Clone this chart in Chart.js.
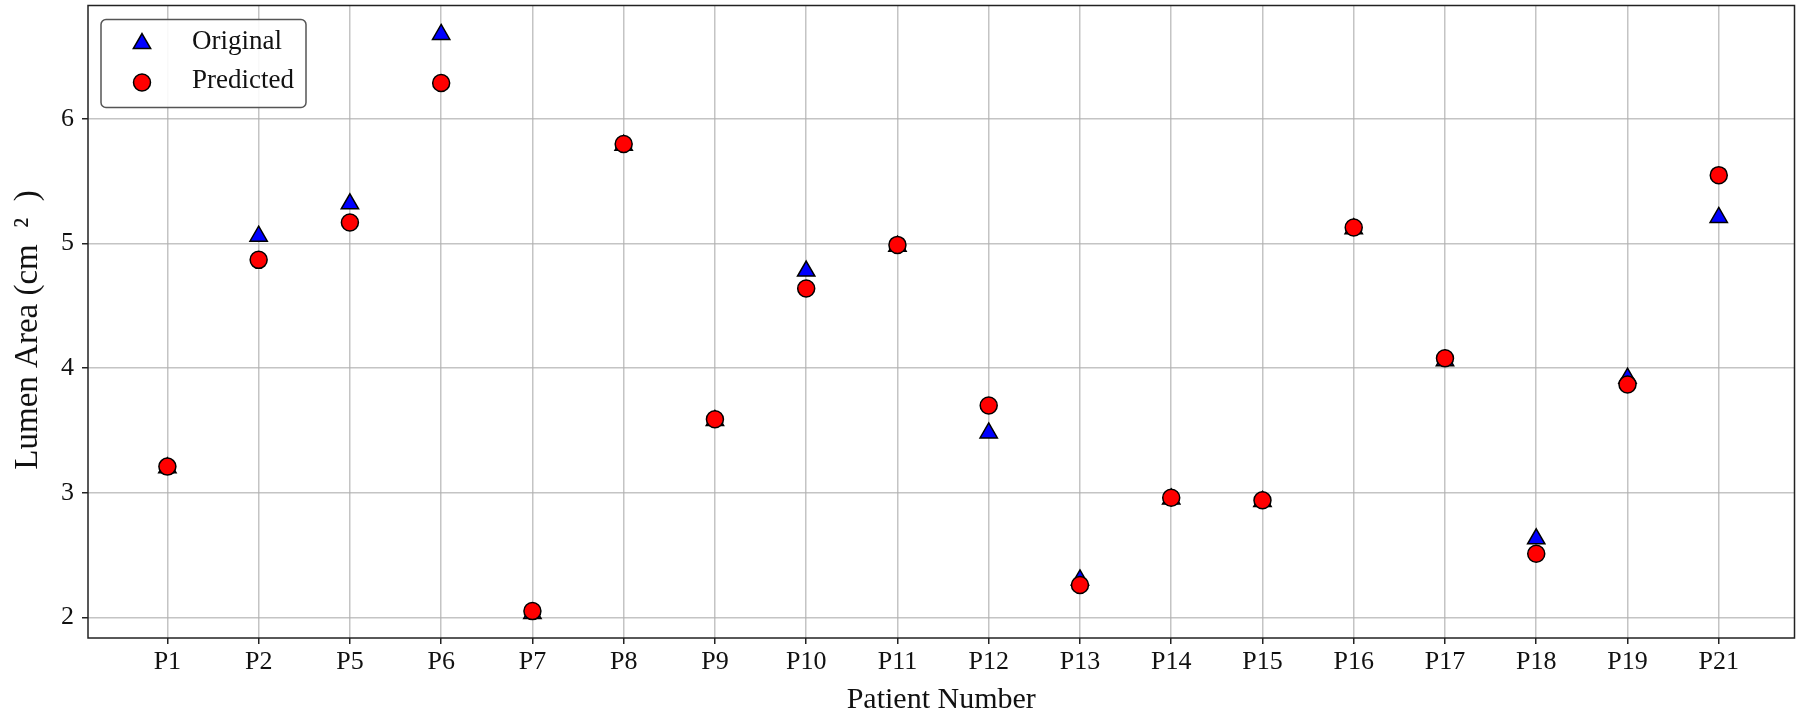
<!DOCTYPE html>
<html>
<head>
<meta charset="utf-8">
<script src="https://cdn.jsdelivr.net/npm/chart.js@4"></script>
<style>
  html, body { margin: 0; padding: 0; background: #fff; overflow: hidden; }
  #wrap { position: absolute; left: 0; top: -6px; width: 1806px; height: 720px; }
</style>
</head>
<body>
<div id="wrap"><canvas id="lumenChart"></canvas></div>
<script>
const patients = ['P1', 'P2', 'P5', 'P6', 'P7', 'P8', 'P9', 'P10', 'P11', 'P12',
                  'P13', 'P14', 'P15', 'P16', 'P17', 'P18', 'P19', 'P21'];
const original  = [3.20, 5.06, 5.32, 6.68, 2.03, 5.79, 3.58, 4.78, 4.98, 3.48,
                   2.30, 2.95, 2.93, 5.12, 4.06, 2.63, 3.92, 5.21];
const predicted = [3.21, 4.87, 5.17, 6.29, 2.05, 5.80, 3.59, 4.64, 4.99, 3.70,
                   2.26, 2.96, 2.94, 5.13, 4.08, 2.51, 3.87, 5.55];
const yTicks = [2, 3, 4, 5, 6];

const FONT = 'Liberation Serif';

// frame round the plot + matplotlib style legend box
const framePlugin = {
    id: 'frame',
    afterDraw(chart) {
        const { ctx, chartArea: a } = chart;
        ctx.save();
        ctx.strokeStyle = '#222';
        ctx.lineWidth = 1.5;
        ctx.strokeRect(a.left, a.top, a.right - a.left, a.bottom - a.top);

        // legend
        const lx = a.left + 13, ly = a.top + 14, lw = 205, lh = 88;
        ctx.beginPath();
        ctx.roundRect(lx, ly, lw, lh, 5);
        ctx.fillStyle = 'rgba(255,255,255,0.9)';
        ctx.fill();
        ctx.strokeStyle = '#555';
        ctx.lineWidth = 1.5;
        ctx.stroke();

        chart.data.datasets.forEach((ds, i) => {
            const cy = ly + 24 + i * 39;
            ctx.fillStyle = ds.backgroundColor;
            ctx.strokeStyle = ds.borderColor;
            ctx.lineWidth = ds.borderWidth;
            Chart.helpers.drawPoint(ctx, { pointStyle: ds.pointStyle, radius: ds.pointRadius, rotation: 0, borderWidth: ds.borderWidth }, lx + 41, cy);
            ctx.fillStyle = '#111';
            ctx.font = '27px "' + FONT + '"';
            ctx.textBaseline = 'middle';
            ctx.textAlign = 'left';
            ctx.fillText(ds.label, lx + 91, cy - 2);
        });
        ctx.restore();
    }
};

new Chart(document.getElementById('lumenChart'), {
    type: 'scatter',
    data: {
        datasets: [{
            label: 'Original',
            data: original.map((v, i) => ({ x: i, y: v })),
            pointStyle: 'triangle',
            pointRadius: 10,
            pointHoverRadius: 10,
            backgroundColor: '#0000ff',
            borderColor: '#000',
            borderWidth: 1.5,
            order: 1
        }, {
            label: 'Predicted',
            data: predicted.map((v, i) => ({ x: i, y: v })),
            pointStyle: 'circle',
            pointRadius: 8.5,
            pointHoverRadius: 8.5,
            backgroundColor: '#ff0000',
            borderColor: '#000',
            borderWidth: 1.5,
            order: 0
        }]
    },
    options: {
        responsive: true,
        maintainAspectRatio: false,
        animation: false,
        layout: { padding: 0 },
        plugins: {
            legend: { display: false },
            tooltip: { enabled: false }
        },
        scales: {
            x: {
                type: 'linear',
                min: -0.87,
                max: patients.length - 1 + 0.83,
                afterBuildTicks: s => { s.ticks = patients.map((p, i) => ({ value: i })); },
                afterFit: s => { s.height = 76; s.paddingLeft = 0; s.paddingRight = 0; },
                ticks: {
                    callback: v => patients[v],
                    color: '#111',
                    font: { family: FONT, size: 26 },
                    padding: 3,
                    maxRotation: 0,
                    autoSkip: false
                },
                grid: { color: 'rgba(176,176,176,0.75)', lineWidth: 1.5, tickColor: '#222', tickLength: 6, tickWidth: 1.5 },
                border: { display: false },
                title: { display: true, text: 'Patient Number', color: '#111', font: { family: FONT, size: 30, lineHeight: 0.9 }, padding: 0 }
            },
            y: {
                min: 1.834,
                max: 6.912,
                afterBuildTicks: s => { s.ticks = yTicks.map(v => ({ value: v })); },
                afterFit: s => { s.width = 88; s.paddingTop = 0; s.paddingBottom = 0; },
                ticks: {
                    callback: v => String(v),
                    color: '#111',
                    font: { family: FONT, size: 26 },
                    padding: 8
                },
                grid: { color: 'rgba(176,176,176,0.75)', lineWidth: 1.5, tickColor: '#222', tickLength: 6, tickWidth: 1.5 },
                border: { display: false },
                title: { display: true, text: 'Lumen Area (cm\u2002²\u2002)\u2002', color: '#111', font: { family: FONT, size: 33, lineHeight: 1 }, padding: { top: 12, bottom: 0 } }
            }
        }
    },
    plugins: [framePlugin]
});
</script>
</body>
</html>
